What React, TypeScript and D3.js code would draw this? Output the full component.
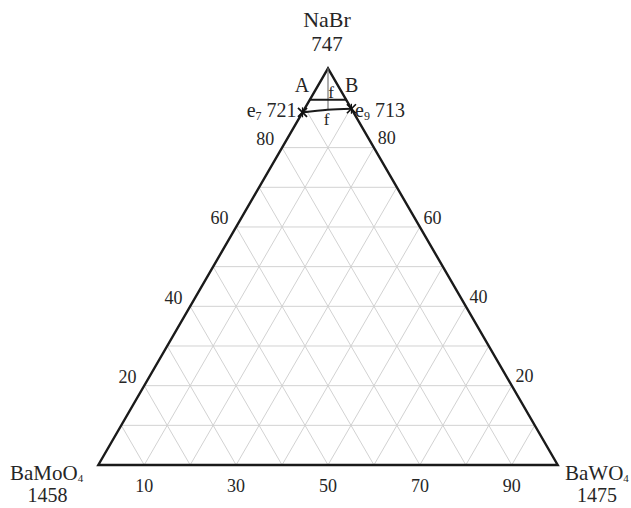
import React from "react";
import * as d3 from "d3";

// Ternary composition: NaBr (top), BaMoO4 (left), BaWO4 (right)
const gridLevels = [10, 20, 30, 40, 50, 60, 70, 80, 90];
const bottomTicks = [10, 30, 50, 70, 90];
const sideTicks = [20, 40, 60, 80];
const vertexNames = ["NaBr", "BaMoO", "BaWO"];
const vertexTemps = ["747", "1458", "1475"];

// points given as [NaBr %, BaWO4 %]
const e7: [number, number] = [88.9, 0];
const e9: [number, number] = [89.8, 10.2];
const e7e9Mid: [number, number] = [89.55, 5.1];
const abLineLevel = 92.1;
const fLineTop: [number, number] = [100, 0];
const fLineBottom: [number, number] = [89.5, 5.25];

const W = 631;
const H = 508;

export default function App() {
  const xS = d3.scaleLinear().domain([0, 100]).range([98.3, 557.7]);
  const yS = d3.scaleLinear().domain([0, 100]).range([465, 68.3]);
  const P = (a: number, c: number): [number, number] => [xS(c + a / 2), yS(a)];

  const font = "'Liberation Serif', 'Times New Roman', serif";
  const gridColor = "#d2d2d2";
  const textColor = "#262626";

  const top = P(100, 0);
  const left = P(0, 0);
  const right = P(0, 100);

  const gridLines: { x1: number; y1: number; x2: number; y2: number; key: string }[] = [];
  gridLevels.forEach((v) => {
    if (v !== 90) {
      const p1 = P(v, 0);
      const p2 = P(v, 100 - v);
      gridLines.push({ x1: p1[0], y1: p1[1], x2: p2[0], y2: p2[1], key: "h" + v });
    }
    {
      const p1 = P(0, v);
      const p2 = P(100 - v, v);
      gridLines.push({ x1: p1[0], y1: p1[1], x2: p2[0], y2: p2[1], key: "c" + v });
    }
    {
      const p1 = P(0, 100 - v);
      const p2 = P(100 - v, 0);
      gridLines.push({ x1: p1[0], y1: p1[1], x2: p2[0], y2: p2[1], key: "b" + v });
    }
  });

  const outline = d3.line()([top, left, right, top]) + "Z";
  const curve = d3.line().curve(d3.curveNatural)([P(...e7), P(...e7e9Mid), P(...e9)]) || "";
  const abL = P(abLineLevel, 0);
  const abR = P(abLineLevel, 100 - abLineLevel);
  const fT = P(...fLineTop);
  const fB = P(...fLineBottom);

  const cross = (p: [number, number], k: string) => {
    const s = 4.5;
    return (
      <g key={k} stroke="#111" strokeWidth={1.7}>
        <line x1={p[0] - s} y1={p[1] - s} x2={p[0] + s} y2={p[1] + s} />
        <line x1={p[0] - s} y1={p[1] + s} x2={p[0] + s} y2={p[1] - s} />
        <line x1={p[0]} y1={p[1] - s - 0.5} x2={p[0]} y2={p[1] + s + 0.5} strokeWidth={1.2} />
      </g>
    );
  };

  const e7p = P(...e7);
  const e9p = P(...e9);

  return (
    <svg width={W} height={H} style={{ position: "absolute", left: 0, top: 0 }} fontFamily={font}>
      <rect width={W} height={H} fill="#fff" />
      {gridLines.map((g) => (
        <line key={g.key} x1={g.x1} y1={g.y1} x2={g.x2} y2={g.y2} stroke={gridColor} strokeWidth={1} />
      ))}
      <path d={outline} fill="none" stroke="#1a1a1a" strokeWidth={2.4} strokeLinejoin="miter" />
      <line x1={fT[0]} y1={fT[1]} x2={fB[0]} y2={fB[1]} stroke="#7a7a7a" strokeWidth={1.2} />
      <line x1={abL[0]} y1={abL[1]} x2={abR[0]} y2={abR[1]} stroke="#1a1a1a" strokeWidth={2} />
      <path d={curve} fill="none" stroke="#1a1a1a" strokeWidth={2.2} />
      {cross(e7p, "e7")}
      {cross(e9p, "e9")}

      <g fill={textColor} fontSize={21}>
        <text x={327} y={27} textAnchor="middle" fontSize={22}>{vertexNames[0]}</text>
        <text x={327} y={51} textAnchor="middle">{vertexTemps[0]}</text>
        <text x={10} y={480}>
          {vertexNames[1]}<tspan fontSize={11} dy={2}>4</tspan>
        </text>
        <text x={47.5} y={502} textAnchor="middle" fontSize={20}>{vertexTemps[1]}</text>
        <text x={565} y={480}>
          {vertexNames[2]}<tspan fontSize={11} dy={2}>4</tspan>
        </text>
        <text x={597} y={502} textAnchor="middle" fontSize={20}>{vertexTemps[2]}</text>
      </g>

      <g fill={textColor} fontSize={20}>
        <text x={302} y={92} textAnchor="middle">A</text>
        <text x={351.7} y={92} textAnchor="middle">B</text>
        <text x={331} y={97.5} textAnchor="middle" fontSize={17}>f</text>
        <text x={326.7} y={125} textAnchor="middle" fontSize={17}>f</text>
        <text x={246.7} y={117}>
          e<tspan fontSize={12} dy={3}>7</tspan>
          <tspan dy={-3}> 721</tspan>
        </text>
        <text x={355} y={117}>
          e<tspan fontSize={12} dy={3}>9</tspan>
          <tspan dy={-3}> 713</tspan>
        </text>
      </g>

      <g fill={textColor} fontSize={18} textAnchor="middle">
        {bottomTicks.map((t) => (
          <text key={"bt" + t} x={xS(t)} y={492}>{t}</text>
        ))}
        {sideTicks.map((t) => {
          const p = P(t, 0);
          return (
            <text key={"lt" + t} x={p[0] - 16.7} y={p[1] - 8.6 + 6}>{t}</text>
          );
        })}
        {sideTicks.map((t) => {
          const p = P(t, 100 - t);
          return (
            <text key={"rt" + t} x={p[0] + 12.7} y={p[1] - 9.2 + 6}>{t}</text>
          );
        })}
      </g>
    </svg>
  );
}
